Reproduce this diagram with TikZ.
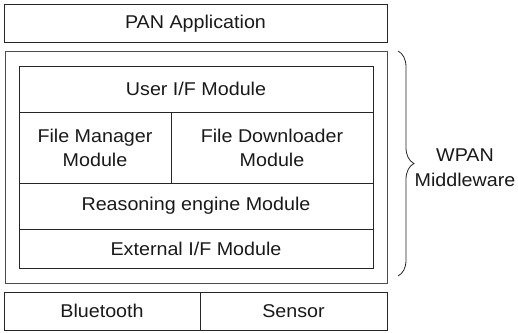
\documentclass[tikz,border=0pt]{standalone}
\usepackage{fontspec}
\setmainfont{Liberation Sans}[FakeStretch=1.065]
\usetikzlibrary{decorations.pathreplacing}
\begin{document}
\begin{tikzpicture}[x=1pt,y=-1pt,
  box/.style={draw=black!85,line width=0.8pt,rectangle,inner sep=0pt,
    font=\fontsize{18.5}{24}\selectfont,align=center,text=black!90},
  frame/.style={draw=black!70,line width=0.8pt}]
\useasboundingbox (0,0) rectangle (518,332);
% PAN Application
\node[box,minimum width=383pt,minimum height=38pt] (pan) at (195.5,23.5) {PAN Application};
% middleware frame
\node[frame,rectangle,minimum width=382pt,minimum height=232pt,inner sep=0pt] (mw) at (196,167) {};
% inner modules
\node[box,minimum width=354pt,minimum height=46pt] (ui) at (196,89) {User I/F Module};
\node[box,minimum width=152pt,minimum height=71pt] (fm) at (95,147.5) {File Manager\\Module};
\node[box,minimum width=202pt,minimum height=71pt] (fd) at (272,147.5) {File Downloader\\Module};
\node[box,minimum width=354pt,minimum height=46pt] (re) at (196,206) {Reasoning engine Module};
\node[box,minimum width=354pt,minimum height=39pt] (ex) at (196,248.5) {External I/F Module};
% bottom
\node[box,minimum width=196pt,minimum height=38pt] (bt) at (102,311) {Bluetooth};
\node[box,minimum width=187pt,minimum height=38pt] (se) at (293.5,311) {Sensor};
% brace
\coordinate (bt1) at (398,51);
\coordinate (bt2) at (398,276);
\draw[black!85,line width=0.8pt,decorate,decoration={brace,amplitude=16pt}] (bt1) -- (bt2);
\node[font=\fontsize{18.5}{24.5}\selectfont,align=center,text=black!90] (lbl) at (465,167.5) {WPAN\\Middleware};
\end{tikzpicture}
\end{document}
